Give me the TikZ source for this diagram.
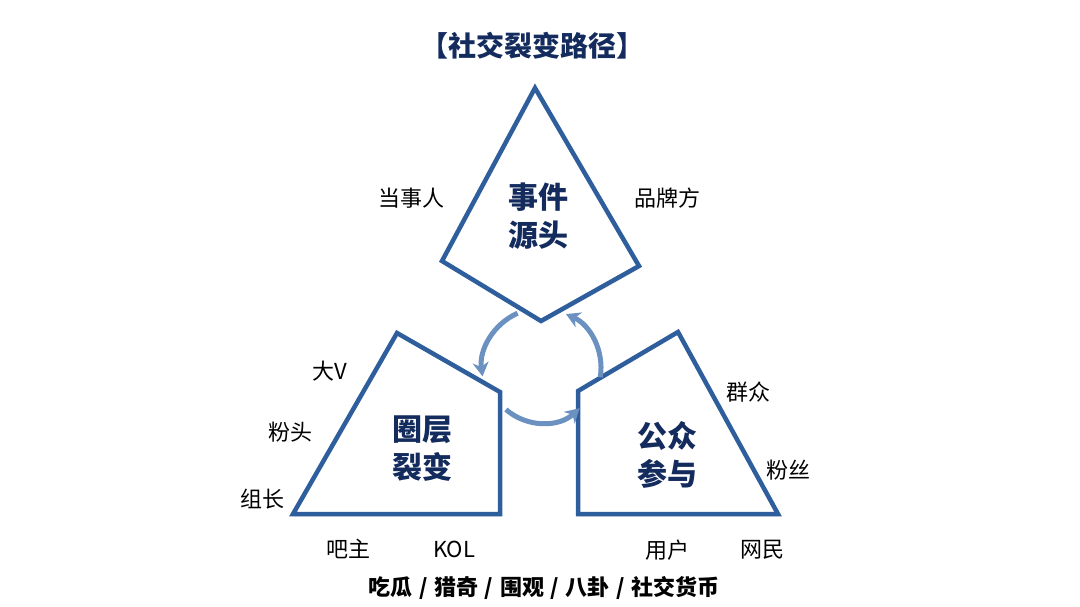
\documentclass[tikz,border=0pt]{standalone}
\usepackage{fontspec}
\setmainfont{Noto Sans CJK SC}
\usetikzlibrary{arrows.meta,shadows}
\definecolor{edgeblue}{HTML}{2F5E9C}
\definecolor{arcblue}{HTML}{6A91C0}
\definecolor{navy}{HTML}{142B5E}
\newcommand{\sepslash}{\hspace{0.3em}/\hspace{0.3em}}
\tikzset{
  stage/.style={line width=4.5pt,draw=edgeblue,fill=white,line join=miter,
    drop shadow={opacity=0.18,shadow xshift=1pt,shadow yshift=-2.5pt}},
  stagetext/.style={text=navy,font=\fontsize{30}{38}\selectfont\bfseries,align=center},
  tag/.style={font=\fontsize{22}{24}\selectfont},
  cyclearrow/.style={line width=5pt,draw=arcblue,-{Stealth[length=14pt,width=16pt]}}
}
\begin{document}
\begin{tikzpicture}[x=1pt,y=-1pt]
\path[use as bounding box] (0,0) rectangle (1080,606);
% three stages
\draw[stage] (535,88) -- (639,266) -- (541,321) -- (442,261) -- cycle;
\draw[stage] (397,333) -- (500,392) -- (500,514) -- (293,514) -- cycle;
\draw[stage] (678,332) -- (778,514) -- (578,514) -- (578,391) -- cycle;
\node[stagetext] (source) at (538,216) {事件\\源头};
\node[stagetext] (circle) at (422,449) {圈层\\裂变};
\node[stagetext] (public) at (667,455) {公众\\参与};
% cycle arrows
\coordinate (hub) at (542,368);
\draw[cyclearrow] (hub) ++(246:60) arc[start angle=246,end angle=172,radius=60];
\draw[cyclearrow] (hub) ++(131:55) arc[start angle=131,end angle=47,radius=55];
\draw[cyclearrow] (hub) ++(9:59) arc[start angle=9,end angle=-66,radius=59];
% roles
\node[tag] (party) at (411,198) {当事人};
\node[tag] (brand) at (667,198) {品牌方};
\node[tag] (bigv) at (330,371) {大V};
\node[tag] (fanhead) at (290,432) {粉头};
\node[tag] (leader) at (262,499) {组长};
\node[tag] (barowner) at (348,549) {吧主};
\node[tag] (kol) at (454,549) {KOL};
\node[tag] (crowd) at (748,392) {群众};
\node[tag] (fans) at (788,470) {粉丝};
\node[tag] (user) at (667,550) {用户};
\node[tag] (netizen) at (762,550) {网民};
% title and keywords
\node[text=navy,font=\fontsize{28}{30}\selectfont\bfseries] (title) at (532,46) {【社交裂变路径】};
\node[font=\fontsize{22}{24}\selectfont\bfseries] (keywords) at (544,588)
  {吃瓜\sepslash 猎奇\sepslash 围观\sepslash 八卦\sepslash 社交货币};
\end{tikzpicture}
\end{document}
